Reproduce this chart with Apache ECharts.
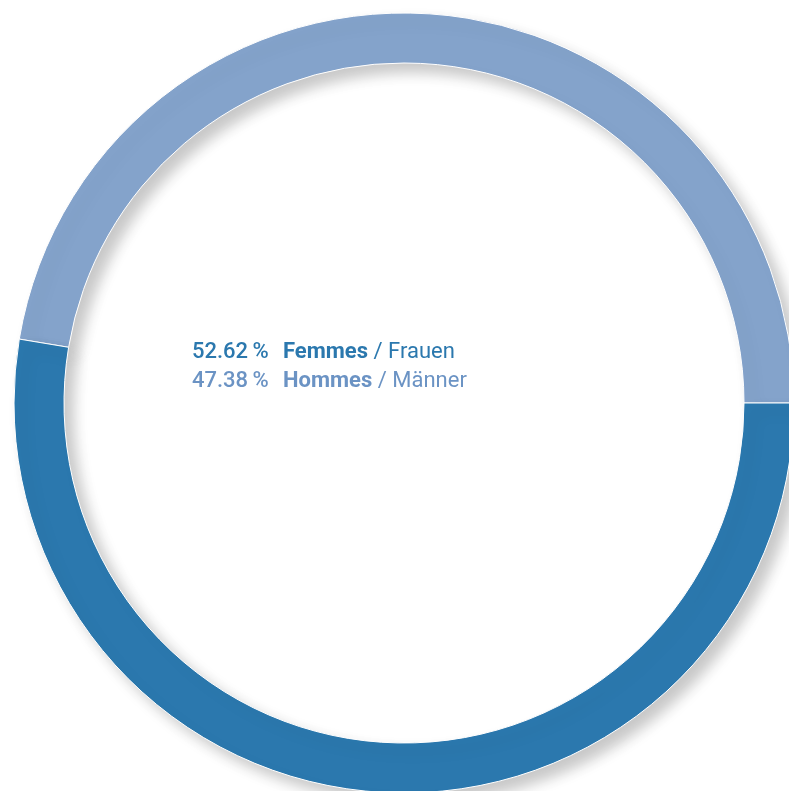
<!DOCTYPE html>
<html lang="fr">
<head>
<meta charset="UTF-8">
<title>Femmes / Hommes</title>
<style>
  html, body { margin: 0; padding: 0; background: #fff; }
  #chart { width: 789px; height: 791px; }
</style>
</head>
<body>
<div id="chart"></div>
<script src="https://cdn.jsdelivr.net/npm/echarts@6/dist/echarts.min.js"></script>
<script>
// data
var labelsFr = ['Hommes', 'Femmes'];
var labelsDe = ['Männer', 'Frauen'];
var shares = [47.38, 52.62];
var ringColors = ['#84a3cb', '#2b78ae'];
var textColors = ['#6b93c4', '#2b78ae'];

var chart = echarts.init(document.getElementById('chart'));

var pieData = shares.map(function (v, i) {
    return {
        name: labelsFr[i],
        value: v,
        itemStyle: { color: ringColors[i] }
    };
});

// legend text in the middle, Femmes first
var order = [1, 0];
var graphics = [];
order.forEach(function (idx, row) {
    var y = 351 + row * 29;
    graphics.push({
        type: 'text',
        left: 192,
        top: y - 10,
        style: {
            text: shares[idx].toFixed(2) + '\u2009%',
            fill: textColors[idx],
            font: '500 22px Roboto'
        }
    });
    graphics.push({
        type: 'text',
        left: 283,
        top: y - 10,
        style: {
            text: '{b|' + labelsFr[idx] + '}{r| / ' + labelsDe[idx] + '}',
            rich: {
                b: { fill: textColors[idx], font: 'bold 22px Roboto' },
                r: { fill: textColors[idx], font: '22px Roboto' }
            }
        }
    });
});

var option = {
    backgroundColor: '#fff',
    animation: false,
    series: [{
        type: 'pie',
        center: [404, 403],
        radius: [340, 390],
        startAngle: shares[0] * 3.6,
        clockwise: true,
        silent: true,
        label: { show: false },
        labelLine: { show: false },
        itemStyle: {
            borderColor: '#fff',
            borderWidth: 1,
            shadowColor: 'rgba(0,0,0,0.22)',
            shadowBlur: 14,
            shadowOffsetX: 9,
            shadowOffsetY: 9
        },
        data: pieData
    }],
    graphic: graphics
};

chart.setOption(option);
</script>
</body>
</html>
